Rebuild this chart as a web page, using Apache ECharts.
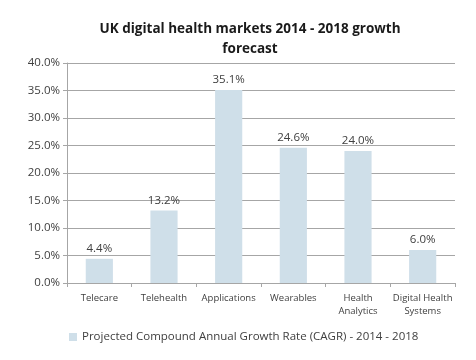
<!DOCTYPE html>
<html><head><meta charset="utf-8">
<script src="https://cdn.jsdelivr.net/npm/echarts@6/dist/echarts.min.js"></script>
<style>html,body{margin:0;padding:0;background:#fff}#c{width:476px;height:360px}</style>
</head><body><div id="c"></div>
<script>
const categories = ['Telecare','Telehealth','Applications','Wearables','Health\nAnalytics','Digital Health\nSystems'];
const values = [4.4, 13.2, 35.1, 24.6, 24.0, 6.0];
const seriesName = 'Projected Compound Annual Growth Rate (CAGR) - 2014 - 2018';
const titleText = 'UK digital health markets 2014 - 2018 growth\nforecast';
const font = '"Open Sans", "Noto Sans", sans-serif';
const chart = echarts.init(document.getElementById('c'));
chart.setOption({
  animation: false,
  textStyle: {fontFamily: font},
  title: {text: titleText, top: 14, textAlign: 'center', left: 245,
    textStyle: {fontSize: 13.5, fontWeight: 'bold', color: '#1a1a1a', lineHeight: 20, fontFamily: font}},
  grid: {left: 67, right: 21, top: 63, bottom: 77, containLabel: false},
  legend: {left: 64, top: 326, itemWidth: 8, itemHeight: 8, itemGap: 4,
    textStyle: {fontSize: 11.5, color: '#404040', fontFamily: font},
    data: [{name: seriesName, icon: 'rect'}]},
  xAxis: {type: 'category', data: categories,
    axisLine: {lineStyle: {color: '#a6a6a6'}},
    axisTick: {show: true, alignWithLabel: false, length: 4, lineStyle: {color: '#a6a6a6'}},
    axisLabel: {fontSize: 9.5, color: '#404040', margin: 9, lineHeight: 13, interval: 0, fontFamily: font}},
  yAxis: {type: 'value', min: 0, max: 40, interval: 5,
    axisLine: {show: true, lineStyle: {color: '#a6a6a6'}},
    axisTick: {show: true, length: 4, lineStyle: {color: '#a6a6a6'}},
    splitLine: {lineStyle: {color: '#a6a6a6'}},
    axisLabel: {fontSize: 11.5, color: '#404040', margin: 7, formatter: v => v.toFixed(1) + '%', fontFamily: font}},
  series: [{name: seriesName, type: 'bar', data: values, barWidth: '42%',
    itemStyle: {color: '#cfdfe9'},
    label: {show: true, position: 'top', fontSize: 11.5, color: '#404040', distance: 4,
      formatter: p => p.value.toFixed(1) + '%', fontFamily: font}}]
});
</script></body></html>
